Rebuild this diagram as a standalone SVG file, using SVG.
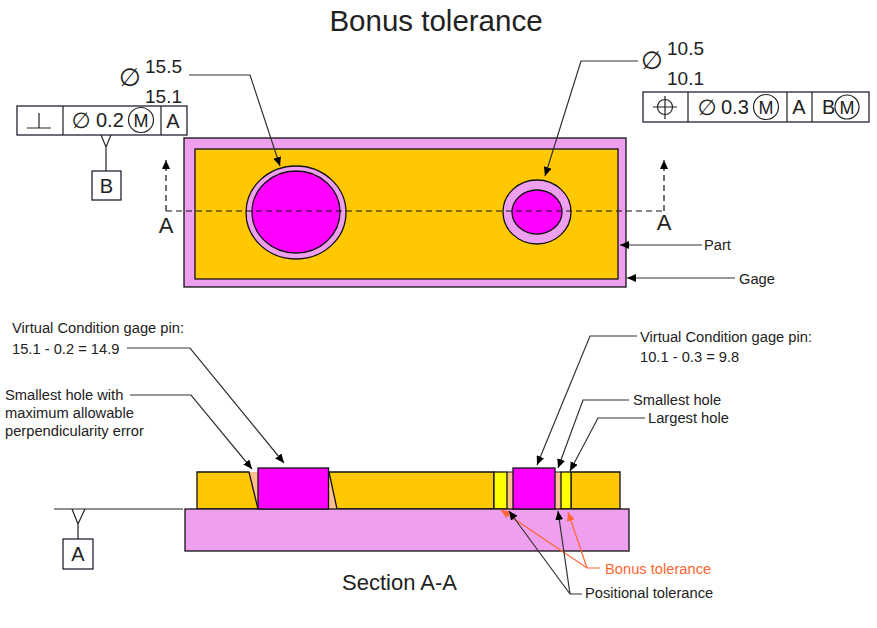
<svg xmlns="http://www.w3.org/2000/svg" width="877" height="628" viewBox="0 0 877 628">
<style>
text{font-family:"Liberation Sans",Arial,sans-serif;fill:#222}
.sym{font-family:"DejaVu Sans",sans-serif}
.t20{font-size:20px}.t19{font-size:19px}.t22{font-size:22px}.t14{font-size:14.700px}.t18{font-size:18px}
.ol{stroke:#111;stroke-width:1.3}
.box{fill:#fff;stroke:#223;stroke-width:1.3}
.ln{fill:none;stroke:#222;stroke-width:1.2}
.gage{fill:#EE9FEE}.part{fill:#FFC800}.pin{fill:#FF00FF}.peach{fill:#FFBF8F}.yel{fill:#FFFF00}
.dash{fill:none;stroke:#111;stroke-width:1.2;stroke-dasharray:6 4}
.ar{fill:none;stroke:#333;stroke-width:1.2;marker-end:url(#a)}
.og{fill:none;stroke:#FF6633;stroke-width:1.2;marker-end:url(#o)}
</style>
<defs>
<marker id="a" markerUnits="userSpaceOnUse" markerWidth="10" markerHeight="8" refX="9" refY="4" orient="auto"><path d="M0 0L9 4L0 8z" fill="#000"/></marker>
<marker id="o" markerUnits="userSpaceOnUse" markerWidth="10" markerHeight="8" refX="9" refY="4" orient="auto"><path d="M0 0L9 4L0 8z" fill="#FF6633"/></marker>
</defs>
<rect width="877" height="628" fill="#fff"/>
<text id="title" x="436" y="31" text-anchor="middle" font-size="29.500">Bonus tolerance</text>

<g id="top-view">
<rect class="gage ol" x="184" y="138" width="442" height="149"/>
<rect class="part ol" x="195" y="149" width="423" height="130"/>
</g>
<g id="hole-large">
<ellipse class="gage ol" cx="296" cy="212.500" rx="50" ry="46.500"/>
<ellipse class="pin ol" cx="296" cy="212" rx="44" ry="41"/>
</g>
<g id="hole-small">
<ellipse class="gage ol" cx="537" cy="212" rx="34" ry="32"/>
<ellipse class="pin ol" cx="537" cy="212" rx="25" ry="22"/>
</g>

<g id="section-view">
<path class="peach" d="M249 472H258V509z"/>
<path class="peach" d="M329 472L337 509H329z"/>
<rect class="peach" x="507" y="472" width="6" height="37"/>
<rect class="peach" x="555" y="472" width="6" height="37"/>
<path class="part ol" d="M197 472H249L258 509H197z"/>
<path class="part ol" d="M329 472H494V509H337z"/>
<path class="part ol" d="M571 472H620V509H571z"/>
<path class="ln" d="M507 472H513M555 472H561"/>
<rect class="yel ol" x="494" y="472" width="13" height="37"/>
<rect class="yel ol" x="561" y="472" width="10" height="37"/>
<rect class="gage ol" x="185" y="509" width="444" height="42"/>
</g>
<g id="pin-left"><rect class="pin ol" x="258" y="468" width="70.500" height="41"/></g>
<g id="pin-right"><rect class="pin ol" x="513" y="468" width="42" height="41"/></g>

<g id="fcf-left">
<rect class="box" x="17" y="106" width="170" height="29"/>
<path class="ln" d="M63 106V135M161 106V135M27 128H51M39 113V128"/>
<text class="sym t22" x="81" y="128" text-anchor="middle">∅</text>
<text class="t20" x="96" y="127">0.2</text>
<circle class="ln" cx="141" cy="120" r="12.500"/>
<text class="t18" x="141" y="127" text-anchor="middle">M</text>
<text class="t20" x="173" y="128" text-anchor="middle">A</text>
</g>
<g id="datum-b">
<path class="ln" d="M101 135L106 147L111 135M106 147V171"/>
<rect class="box" x="92" y="171" width="29" height="29"/>
<text class="t20" x="106.500" y="193" text-anchor="middle">B</text>
</g>
<g id="dim-large">
<text class="sym" font-size="25" x="130" y="86" text-anchor="middle">∅</text>
<text class="t19" x="145" y="73">15.5</text>
<text class="t19" x="145" y="103">15.1</text>
</g>
<g id="dim-small">
<text class="sym" font-size="25" x="652" y="69" text-anchor="middle">∅</text>
<text class="t19" x="667" y="55">10.5</text>
<text class="t19" x="667" y="85">10.1</text>
</g>
<g id="fcf-right">
<rect class="box" x="643" y="92" width="226" height="30"/>
<path class="ln" d="M688 92V122M787 92V122M812 92V122M653 107H677M665 96V119"/>
<circle class="ln" cx="665" cy="107" r="7.500"/>
<text class="sym t22" x="707" y="115" text-anchor="middle">∅</text>
<text class="t20" x="721" y="114">0.3</text>
<circle class="ln" cx="766" cy="107" r="12.500"/>
<text class="t18" x="766" y="114" text-anchor="middle">M</text>
<text class="t20" x="799" y="114" text-anchor="middle">A</text>
<text class="t20" x="822" y="114">B</text>
<circle class="ln" cx="847" cy="107" r="12"/>
<text class="t18" x="847" y="114" text-anchor="middle">M</text>
</g>
<g id="datum-a">
<path class="ln" d="M54 509H183M72 509L78 524L85 509M78 524V539"/>
<rect class="box" x="63" y="539" width="30" height="30"/>
<text class="t20" x="78" y="561" text-anchor="middle">A</text>
</g>

<g id="connectors">
<path class="dash" d="M166 211H664"/>
<path class="dash" d="M166 211V160" marker-end="url(#a)"/>
<path class="dash" d="M664 211V160" marker-end="url(#a)"/>
<path class="ar" d="M189 75H250L280 166"/>
<path class="ar" d="M638 61H581L545 176"/>
<path class="ar" d="M702 245H620"/>
<path class="ar" d="M735 278H627"/>
<path class="ar" d="M127 348H190L284 463"/>
<path class="ar" d="M130 395H191L252 469"/>
<path class="ar" d="M637 336H590L537 465"/>
<path class="ar" d="M629 400H583L558 468"/>
<path class="ar" d="M645 418H598L570 471"/>
<path class="og" d="M600 568H587L501 510"/>
<path class="og" d="M587 568L568 512"/>
<path class="ar" d="M582 594H570L509 511"/>
<path class="ar" d="M570 594L558 511"/>
</g>

<g id="labels">
<text class="t22" x="166" y="233" text-anchor="middle">A</text>
<text class="t22" x="664" y="230" text-anchor="middle">A</text>
<text class="t14" x="704" y="250">Part</text>
<text class="t14" x="739" y="284">Gage</text>
<text class="t14" x="12" y="333">Virtual Condition gage pin:</text>
<text class="t14" x="12" y="354">15.1 - 0.2 = 14.9</text>
<text class="t14" x="5" y="400">Smallest hole with</text>
<text class="t14" x="5" y="418">maximum allowable</text>
<text class="t14" x="5" y="436">perpendicularity error</text>
<text class="t14" x="640" y="342">Virtual Condition gage pin:</text>
<text class="t14" x="640" y="362">10.1 - 0.3 = 9.8</text>
<text class="t14" x="633" y="405">Smallest hole</text>
<text class="t14" x="648" y="423">Largest hole</text>
<text class="t14" x="605" y="574" style="fill:#FF6633">Bonus tolerance</text>
<text class="t14" x="585" y="598">Positional tolerance</text>
<text class="t22" x="342" y="590">Section A-A</text>
</g>
</svg>
